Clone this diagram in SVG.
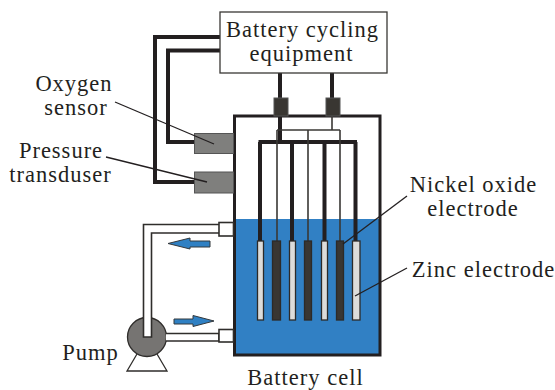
<svg xmlns="http://www.w3.org/2000/svg" width="555" height="390" viewBox="0 0 555 390">
<style>
text{font-family:"Liberation Serif","Times New Roman",serif;font-size:22.5px;fill:#231f20;text-anchor:middle;letter-spacing:1px}
.thick{fill:none;stroke:#231f20;stroke-width:4}
.thin{fill:none;stroke:#3a3835;stroke-width:1.6}
.lead{fill:none;stroke:#231f20;stroke-width:1.3}
.sensor{fill:#7f7f7d;stroke:#555;stroke-width:1}
.term{fill:#393632;stroke:#555;stroke-width:1}
.pos{fill:#dcdcda;stroke:#2c2a28;stroke-width:1.3}
.neg{fill:#393632;stroke:#2c2a28;stroke-width:1.3}
.pipe{fill:#fff;stroke:#2f2d2b;stroke-width:1.6}
.arrow{fill:#2f80c3;stroke:#33383c;stroke-width:1}
</style>
<rect width="555" height="390" fill="#fff"/>
<g id="cell">
<rect x="235" y="219" width="144" height="135" fill="#3180c4"/>
<rect x="234.500" y="116" width="145.500" height="239" fill="none" stroke="#231f20" stroke-width="3"/>
<text x="305.500" y="385">Battery cell</text>
</g>
<g id="connectors">
<path class="thick" d="M220 37H155V182H194"/>
<path class="thick" d="M220 50.500H168V142H194"/>
<path class="thick" d="M280 73V98M332 73V98M280 116V142M258.500 142H357M260 142V241M292 142V241M324.500 142V241M355.500 142V241"/>
<path class="thin" d="M332 116V130M277 130H340M277 130V241M308 130V241M340 130V241"/>
</g>
<g id="equipment">
<rect x="220" y="12" width="167" height="61" fill="#fff" stroke="#3a3835" stroke-width="1.300"/>
<text x="302.500" y="37">Battery cycling</text>
<text x="301.500" y="61">equipment</text>
</g>
<g id="terminal-left"><rect class="term" x="274" y="98" width="14" height="18"/></g>
<g id="terminal-right"><rect class="term" x="326" y="98" width="14" height="18"/></g>
<g id="oxygen-sensor">
<rect class="sensor" x="194.500" y="133.500" width="39" height="20"/>
<text x="74" y="91">Oxygen</text>
<text x="76" y="115">sensor</text>
<path class="lead" d="M115 102L214 144"/>
</g>
<g id="pressure-transducer">
<rect class="sensor" x="194.500" y="172" width="39" height="21"/>
<text x="61" y="158">Pressure</text>
<text x="60.500" y="182">transduser</text>
<path class="lead" d="M106 157L207 182"/>
</g>
<g id="electrodes">
<rect class="pos" x="257.500" y="241" width="6" height="79"/>
<rect class="neg" x="272.500" y="241" width="8" height="79"/>
<rect class="pos" x="289.500" y="241" width="6" height="79"/>
<rect class="neg" x="304.500" y="241" width="7" height="79"/>
<rect class="pos" x="321.500" y="241" width="6" height="79"/>
<rect class="neg" x="336.500" y="241" width="7" height="79"/>
<rect class="pos" x="352.500" y="241" width="7.500" height="79"/>
</g>
<g id="nickel-label">
<path class="lead" d="M343 244L407 196"/>
<text x="473.500" y="192">Nickel oxide</text>
<text x="473" y="216">electrode</text>
</g>
<g id="zinc-label">
<path class="lead" d="M355 296L407 268"/>
<text x="483.500" y="277">Zinc electrode</text>
</g>
<g id="pump">
<circle cx="147" cy="337" r="19.500" fill="#767472" stroke="#2f2d2b" stroke-width="1.300"/>
<path d="M137 354L127 371H167L157 354" fill="none" stroke="#2f2d2b" stroke-width="1.300"/>
<path class="pipe" d="M219 224.500H143.500V337H151.500V233H219"/>
<path class="pipe" d="M166 333.500H219V341H166"/>
<rect class="pipe" x="219" y="222.500" width="14.500" height="13.500"/>
<rect class="pipe" x="219" y="329.500" width="14.500" height="12.500"/>
<text x="90.500" y="360">Pump</text>
</g>
<g id="flow-arrows">
<path class="arrow" d="M210 241H190V238L168 243.500L190 249V247H210Z"/>
<path class="arrow" d="M174 319H193V315.500L214 321L193 326.500V324H174Z"/>
</g>
</svg>
